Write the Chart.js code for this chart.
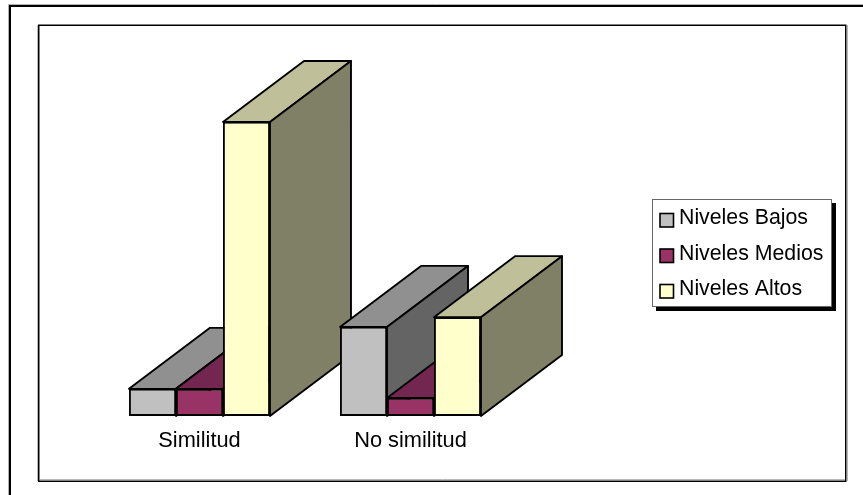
<!DOCTYPE html>
<html>
<head>
<meta charset="utf-8">
<title>Similitud</title>
<script src="https://cdn.jsdelivr.net/npm/chart.js@4/dist/chart.umd.min.js"></script>
<style>
  html, body { margin: 0; padding: 0; background: #fff; }
  #wrap { position: relative; width: 863px; height: 495px; }
</style>
</head>
<body>
<div id="wrap"><canvas id="myChart"></canvas></div>
<script>
var categories = ['Similitud', 'No similitud'];
var seriesNames = ['Niveles Bajos', 'Niveles Medios', 'Niveles Altos'];
var nivelesBajos = [7.8, 25.6];
var nivelesMedios = [7.8, 5.2];
var nivelesAltos = [84.5, 28.4];

var frontColors = ['#c0c0c0', '#993366', '#ffffcc'];
var topColors = ['#909090', '#732650', '#bfbf99'];
var sideColors = ['#646464', '#4d1a33', '#808066'];

var fontName = '"Liberation Sans", Arial, sans-serif';
var depthX = 81;
var depthY = -61;

function face(ctx, pts, color) {
  ctx.beginPath();
  ctx.moveTo(pts[0][0], pts[0][1]);
  for (var i = 1; i < pts.length; i++) ctx.lineTo(pts[i][0], pts[i][1]);
  ctx.closePath();
  ctx.fillStyle = color;
  ctx.fill();
  ctx.stroke();
}

// depth faces go under the flat bars, left to right
var depthPlugin = {
  id: 'depthFaces',
  beforeDatasetsDraw: function (chart) {
    var ctx = chart.ctx;
    ctx.save();
    ctx.strokeStyle = '#000';
    ctx.lineWidth = 1.9;
    ctx.lineJoin = 'round';
    categories.forEach(function (c, i) {
      chart.data.datasets.forEach(function (ds, d) {
        var bar = chart.getDatasetMeta(d).data[i];
        var l = bar.x - bar.width / 2;
        var r = bar.x + bar.width / 2;
        var t = bar.y;
        var b = bar.base;
        face(ctx, [[l, t], [r, t], [r + depthX, t + depthY], [l + depthX, t + depthY]], topColors[d]);
        face(ctx, [[r, t], [r + depthX, t + depthY], [r + depthX, b + depthY], [r, b]], sideColors[d]);
      });
    });
    ctx.restore();
  }
};

var framePlugin = {
  id: 'frames',
  beforeDraw: function (chart) {
    var ctx = chart.ctx;
    ctx.save();
    ctx.fillStyle = '#fff';
    ctx.fillRect(0, 0, chart.width, chart.height);

    // outer frame runs off the page on the right and at the bottom
    ctx.strokeStyle = '#b0b0b0';
    ctx.lineWidth = 1;
    ctx.beginPath();
    ctx.moveTo(8.5, 495);
    ctx.lineTo(8.5, 4.5);
    ctx.lineTo(863, 4.5);
    ctx.stroke();
    ctx.strokeStyle = '#000';
    ctx.lineWidth = 2;
    ctx.beginPath();
    ctx.moveTo(10, 495);
    ctx.lineTo(10, 6);
    ctx.lineTo(863, 6);
    ctx.stroke();

    // inner frame
    ctx.strokeStyle = '#b8b8b8';
    ctx.lineWidth = 1;
    ctx.beginPath();
    ctx.moveTo(37.5, 481);
    ctx.lineTo(37.5, 25);
    ctx.moveTo(847.5, 25);
    ctx.lineTo(847.5, 481);
    ctx.moveTo(40, 479.5);
    ctx.lineTo(845, 479.5);
    ctx.stroke();
    ctx.strokeStyle = '#000';
    ctx.lineWidth = 1.5;
    ctx.strokeRect(38.75, 25.25, 807, 456);
    ctx.restore();
  },
  afterDraw: function (chart) {
    var ctx = chart.ctx;
    ctx.save();
    // legend box with its hard shadow
    ctx.fillStyle = '#000';
    ctx.fillRect(656, 203, 180, 108);
    ctx.fillStyle = '#fff';
    ctx.fillRect(652, 199, 180, 108);
    ctx.strokeStyle = '#666';
    ctx.lineWidth = 1;
    ctx.strokeRect(652.5, 199.5, 179, 107);
    ctx.font = '21.3px ' + fontName;
    ctx.textBaseline = 'alphabetic';
    chart.data.datasets.forEach(function (ds, d) {
      var y = 224 + d * 35.5;
      ctx.fillStyle = frontColors[d];
      ctx.strokeStyle = '#000';
      ctx.lineWidth = 1.6;
      ctx.fillRect(660, y - 10.5, 13.5, 13.5);
      ctx.strokeRect(660, y - 10.5, 13.5, 13.5);
      ctx.fillStyle = '#000';
      ctx.fillText(ds.label, 679, y);
    });
    ctx.restore();
  }
};

var myChart = new Chart(document.getElementById('myChart'), {
  type: 'bar',
  data: {
    labels: categories,
    datasets: [
      { label: seriesNames[0], data: nivelesBajos, backgroundColor: frontColors[0] },
      { label: seriesNames[1], data: nivelesMedios, backgroundColor: frontColors[1] },
      { label: seriesNames[2], data: nivelesAltos, backgroundColor: frontColors[2] }
    ]
  },
  options: {
    responsive: true,
    maintainAspectRatio: false,
    animation: false,
    layout: { padding: { left: 94, right: 347, top: 68, bottom: 0 } },
    datasets: {
      bar: {
        borderColor: '#000',
        borderWidth: 1.9,
        borderSkipped: false,
        categoryPercentage: 0.668,
        barPercentage: 1
      }
    },
    plugins: {
      legend: { display: false },
      tooltip: { enabled: false }
    },
    scales: {
      x: {
        grid: { display: false, drawTicks: false },
        border: { display: false },
        afterFit: function (s) { s.height = 79; },
        ticks: {
          color: '#000',
          padding: 12,
          font: { family: fontName, size: 21.8 }
        }
      },
      y: {
        display: false,
        min: 0,
        max: 100
      }
    }
  },
  plugins: [framePlugin, depthPlugin]
});
</script>
</body>
</html>
